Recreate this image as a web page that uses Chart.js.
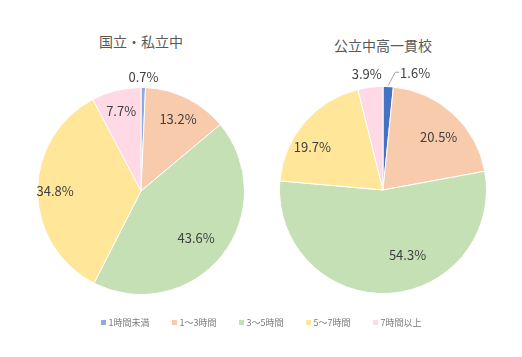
<!DOCTYPE html>
<html><head><meta charset="utf-8">
<script src="https://cdn.jsdelivr.net/npm/chart.js@4.4.0/dist/chart.umd.min.js"></script>
<style>
html,body{margin:0;padding:0;background:#fff;}
#wrap{position:relative;width:522px;height:357px;font-family:"Noto Sans CJK JP","Noto Sans",sans-serif;}
canvas{position:absolute;}
.title{position:absolute;font-size:14px;color:#595959;text-align:center;width:200px;}
#legend{position:absolute;top:316px;left:0;width:522px;text-align:center;font-size:9px;color:#7a7a7a;}
#legend span.item{display:inline-block;margin:0 11px;}
#legend span.sw{display:inline-block;width:5px;height:5px;margin-right:3px;vertical-align:middle;position:relative;top:-1px;}
</style></head>
<body>
<div id="wrap">
<div class="title" id="t1" style="left:41px;top:31px;"></div>
<div class="title" id="t2" style="left:283px;top:35px;"></div>
<canvas id="c1" width="260" height="260" style="left:11px;top:61px;"></canvas>
<canvas id="c2" width="260" height="260" style="left:253px;top:60px;"></canvas>
<div id="legend"></div>
</div>
<script>
const categories = ["1時間未満","1～3時間","3～5時間","5～7時間","7時間以上"];
const titles = ["国立・私立中","公立中高一貫校"];
const valuesPrivate = [0.7, 13.2, 43.6, 34.8, 7.7];
const valuesPublic = [1.6, 20.5, 54.3, 19.7, 3.9];
const colorsPrivate = ["#8FAADC","#F8CBAD","#C5E0B4","#FFE699","#FFD9E6"];
const colorsPublic = ["#4472C4","#F8CBAD","#C5E0B4","#FFE699","#FFD9E6"];
const legendColors = ["#8FAADC","#F8CBAD","#C5E0B4","#FFE699","#FFD9E6"];

// label placement per slice: [radius factor, angle offset (deg)]
const placePrivate = [[1.1,0],[0.78,1],[0.7,2],[0.83,0],[0.8,0]];
const placePublic = [[1.17,12.5],[0.74,4],[0.67,-18],[0.8,-9],[1.13,-1]];

document.getElementById('t1').textContent = titles[0];
document.getElementById('t2').textContent = titles[1];
const lg = document.getElementById('legend');
categories.forEach((c,i)=>{
  const s=document.createElement('span');s.className='item';
  s.innerHTML='<span class="sw" style="background:'+legendColors[i]+'"></span>'+c;
  lg.appendChild(s);
});

function labelPlugin(place, leaderIdx){
  return {
    id:'lbl',
    afterDatasetsDraw(chart){
      const ctx=chart.ctx;
      const meta=chart.getDatasetMeta(0);
      const data=chart.data.datasets[0].data;
      ctx.save();
      ctx.font='13px "Noto Sans CJK JP","Noto Sans",sans-serif';
      ctx.fillStyle='#404040';
      ctx.textAlign='center';ctx.textBaseline='middle';
      meta.data.forEach((arc,i)=>{
        const p=arc.getProps(['x','y','startAngle','endAngle','outerRadius'],true);
        const mid=(p.startAngle+p.endAngle)/2 + place[i][1]*Math.PI/180;
        const r=p.outerRadius*place[i][0];
        const x=p.x+Math.cos(mid)*r;
        const y=p.y+Math.sin(mid)*r;
        const txt=data[i].toFixed(1)+'%';
        ctx.fillText(txt,x,y);
        if(i===leaderIdx){
          const am=(p.startAngle+p.endAngle)/2;
          const ex=p.x+Math.cos(am)*(p.outerRadius+1), ey=p.y+Math.sin(am)*(p.outerRadius+1);
          const left=x-ctx.measureText(txt).width/2;
          ctx.strokeStyle='#A6A6A6';ctx.lineWidth=1;
          ctx.beginPath();ctx.moveTo(ex,ey);ctx.lineTo(left-5,y-1);ctx.lineTo(left-1,y-1);ctx.stroke();
        }
      });
      ctx.restore();
    }
  };
}

function make(id, vals, cols, place, leaderIdx){
  new Chart(document.getElementById(id),{
    type:'pie',
    data:{labels:categories,datasets:[{data:vals,backgroundColor:cols,borderColor:'#ffffff',borderWidth:1}]},
    options:{
      responsive:false,animation:false,
      layout:{padding:26},
      plugins:{legend:{display:false},tooltip:{enabled:false}}
    },
    plugins:[labelPlugin(place, leaderIdx)]
  });
}
make('c1', valuesPrivate, colorsPrivate, placePrivate, -1);
make('c2', valuesPublic, colorsPublic, placePublic, 0);
</script>
</body></html>
